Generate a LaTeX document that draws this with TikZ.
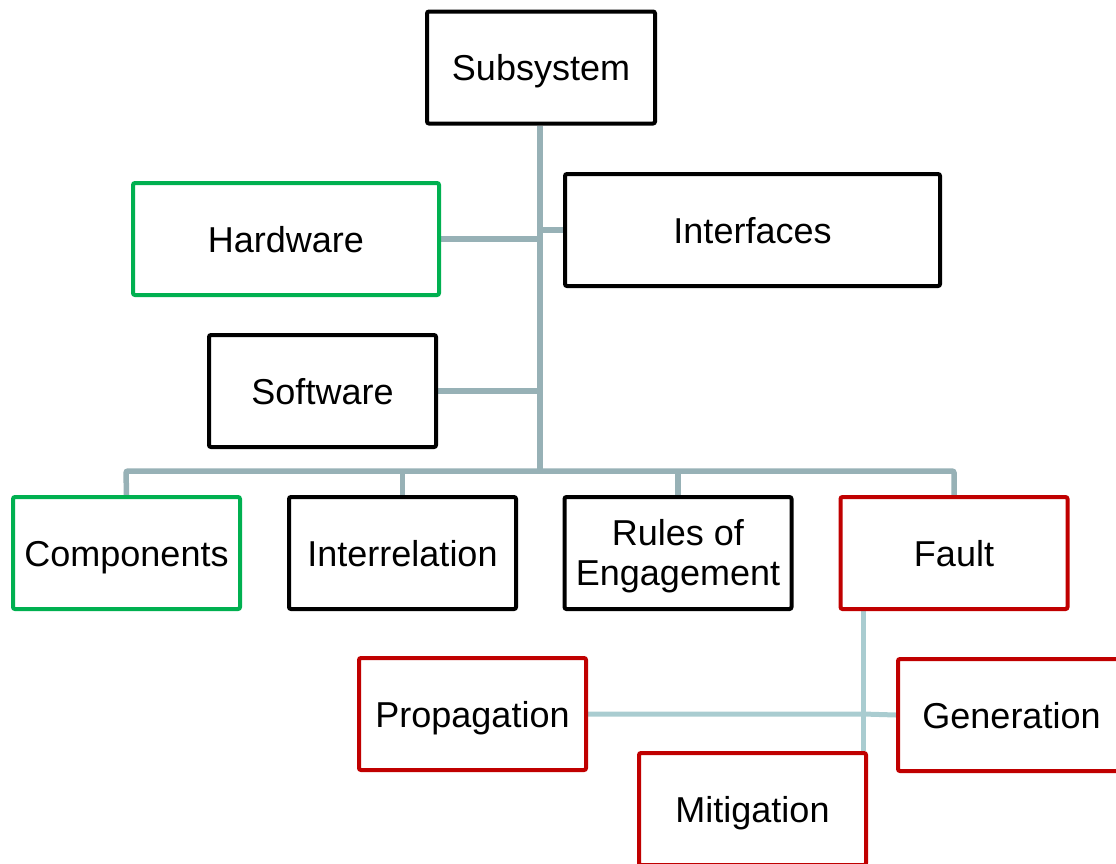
\documentclass[tikz,border=0pt]{standalone}
\usepackage{fontspec}
\setmainfont{Liberation Sans}
\usetikzlibrary{backgrounds}
\begin{document}
\begin{tikzpicture}[x=1pt,y=-1pt,
  box/.style={draw, rectangle, line width=4pt, rounded corners=2pt, fill=white,
    minimum width=227pt, minimum height=112pt, inner sep=0pt, align=center,
    text height=26pt, text depth=0pt,
    font=\fontsize{36}{40}\selectfont},
  twolines/.style={text height=64pt, text depth=0pt},
  blackbox/.style={box, draw=black},
  greenbox/.style={box, draw=boxgreen},
  redbox/.style={box, draw=boxred},
  tree/.style={draw=treeline, line width=5.5pt, rounded corners=2pt},
  subtree/.style={draw=subline, line width=5pt}]
\definecolor{boxgreen}{HTML}{00B050}
\definecolor{boxred}{HTML}{C00000}
\definecolor{treeline}{HTML}{97B1B6}
\definecolor{subline}{HTML}{A9CCD0}
\useasboundingbox (0,0) rectangle (1116,863);

% boxes
\node[blackbox, minimum width=228pt] (sub) at (541,67.5) {Subsystem};
\node[greenbox, minimum width=306pt] (hw) at (286,239) {Hardware};
\node[blackbox, minimum width=375pt] (intf) at (752.5,230) {Interfaces};
\node[blackbox] (sw) at (322.5,391) {Software};
\node[greenbox] (comp) at (126.5,553) {Components};
\node[blackbox] (inter) at (402.5,553) {Interrelation};
\node[blackbox, twolines] (rules) at (678,553) {Rules of\\Engagement};
\node[redbox] (fault) at (954,553) {Fault};
\node[redbox] (prop) at (472.5,714) {Propagation};
\node[redbox] (gen) at (1011.5,715) {Generation};
\node[redbox] (mit) at (752.5,809) {Mitigation};

% connectors, kept underneath the boxes
\begin{pgfonlayer}{background}
\coordinate (trunkbot) at (540,471);
\coordinate (busL) at (126,471);
\coordinate (busR) at (954,471);
\draw[tree] (sub.south -| trunkbot) -- (trunkbot);
\draw[tree] (hw.east) -- (hw.east -| trunkbot);
\draw[tree] (trunkbot |- intf.west) -- (intf.west);
\draw[tree] (sw.east) -- (sw.east -| trunkbot);
\draw[tree] (comp.north) -- (busL) -- (busR) -- (fault.north);
\draw[tree] (inter.north) -- (inter.north |- busL);
\draw[tree] (rules.north) -- (rules.north |- busL);

% fault subtree
\coordinate (fj) at (863,714);
\draw[subtree] (fault.south -| fj) -- (mit.north -| fj);
\draw[subtree] (prop.east) -- (fj) -- (gen.west);
\end{pgfonlayer}
\end{tikzpicture}
\end{document}
